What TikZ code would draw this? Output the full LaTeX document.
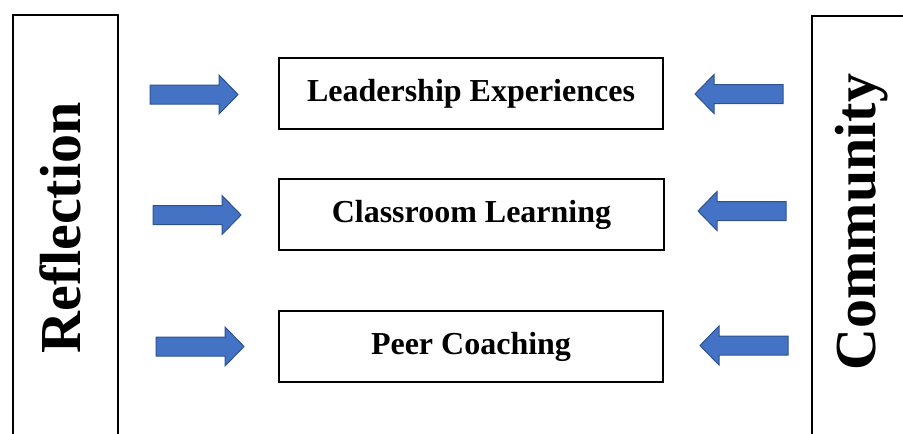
\documentclass[tikz,border=0pt]{standalone}
\usepackage{fontspec}
\setmainfont{Liberation Serif}
\definecolor{arrowfill}{HTML}{4472C4}
\definecolor{arrowline}{HTML}{2F528F}
\tikzset{
  item/.style={draw=black, line width=2pt, minimum width=384pt, minimum height=71pt,
    inner sep=0pt, font=\fontsize{32}{38}\selectfont\bfseries},
  sidebox/.style={draw=black, line width=2pt, inner sep=0pt, anchor=north west},
  sidetext/.style={font=\fontsize{58}{66}\selectfont\bfseries, rotate=90, anchor=base, inner sep=0pt},
  blockarrow/.style={fill=arrowfill, draw=arrowline, line width=1pt, line join=miter},
  pics/rarr/.style={code={
    \draw[blockarrow] (0,-9.5) -- (69,-9.5) -- (69,-19.5) -- (88,0) -- (69,19.5)
      -- (69,9.5) -- (0,9.5) -- cycle;}}
}
\begin{document}
\begin{tikzpicture}[x=1pt,y=-1pt]
\useasboundingbox (0,0) rectangle (903,434);
\clip (0,0) rectangle (903,434);
% side boxes (open at the picture's edges)
\node[sidebox, minimum width=105pt, minimum height=460pt] (refbox) at (12,14) {};
\node[sidebox, minimum width=140pt, minimum height=460pt] (combox) at (811,15) {};
\node[sidetext] (reflection) at (80,228) {Reflection};
\node[sidetext] (community) at (875,222) {Community};
% central boxes
\node[item] (lead) at (471,93.5) {Leadership Experiences};
\node[item, minimum width=385pt] (class) at (471.5,214.5) {Classroom Learning};
\node[item] (peer) at (471,346.5) {Peer Coaching};
% block arrows
\pic at (150,94.5) {rarr};
\pic at (153,215) {rarr};
\pic at (156,346.5) {rarr};
\pic[xscale=-1] at (783,94) {rarr};
\pic[xscale=-1] at (786,211) {rarr};
\pic[xscale=-1] at (788,345.5) {rarr};
\end{tikzpicture}
\end{document}
